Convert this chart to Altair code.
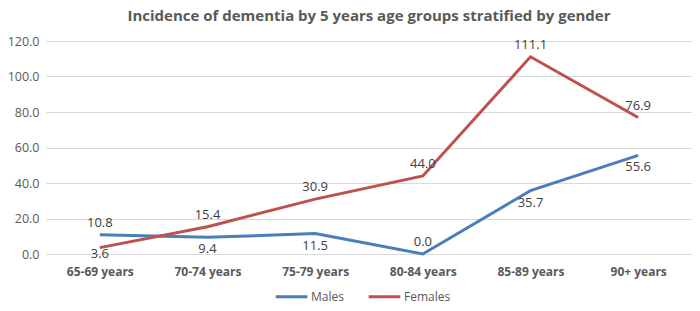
import altair as alt
import pandas as pd

age_groups = ["65-69 years", "70-74 years", "75-79 years", "80-84 years", "85-89 years", "90+ years"]
males = [10.8, 9.4, 11.5, 0.0, 35.7, 55.6]
females = [3.6, 15.4, 30.9, 44.0, 111.1, 76.9]
male_label_side = ["above", "below", "below", "above", "below", "below"]
female_label_side = ["tight", "above", "above", "above", "above", "above"]
y_ticks = [0, 20, 40, 60, 80, 100, 120]

rows = []
for g, m, s in zip(age_groups, males, male_label_side):
    rows.append({"age": g, "value": m, "series": "Males", "side": s})
for g, f, s in zip(age_groups, females, female_label_side):
    rows.append({"age": g, "value": f, "series": "Females", "side": s})
df = pd.DataFrame(rows)

FONT = "Open Sans"
x = alt.X("age:N", sort=age_groups, scale=alt.Scale(type="point", padding=0.5),
          axis=alt.Axis(title=None, labelAngle=0, labelFontWeight="bold", labelFontSize=12,
                        labelColor="#595959", labelFont=FONT, ticks=False, domain=False,
                        labelPadding=12, grid=False))
y = alt.Y("value:Q", scale=alt.Scale(domain=[0, 120], nice=False),
          axis=alt.Axis(title=None, values=y_ticks, format=".1f", tickCount=7,
                        labelFontSize=12.5, labelColor="#595959", labelFont=FONT, labelOverlap=False,
                        ticks=False, domain=False, gridColor="#d9d9d9", labelPadding=7))
color = alt.Color("series:N", scale=alt.Scale(domain=["Males", "Females"], range=["#4a7ebb", "#c0504d"]),
                  legend=alt.Legend(title=None, orient="none", direction="horizontal",
                                    legendX=228, legendY=238, symbolType="stroke",
                                    symbolStrokeWidth=3, symbolSize=1000, labelFontSize=12,
                                    labelColor="#595959", labelFont=FONT, columnPadding=18,
                                    labelOffset=2))

lines = alt.Chart(df).mark_line(strokeWidth=3).encode(x=x, y=y, color=color, detail="series:N")

def labels(side, dy):
    return alt.Chart(df).transform_filter(alt.datum.side == side).mark_text(
        dy=dy, fontSize=13, color="#404040", font=FONT).encode(
        x=x, y=y, text=alt.Text("value:Q", format=".1f"))

chart = alt.layer(lines, labels("above", -12), labels("below", 12), labels("tight", 6)).properties(
    width=646, height=213,
    title=alt.TitleParams("Incidence of dementia by 5 years age groups stratified by gender",
                          fontSize=15, fontWeight="bold", color="#595959", font=FONT,
                          anchor="middle", offset=11),
    autosize=alt.AutoSizeParams(type="none"),
    padding={"left": 38, "top": 33, "right": 0, "bottom": 49},
).configure_view(stroke=None)

chart.save("out.html", embed_options={"renderer": "svg", "actions": False})
